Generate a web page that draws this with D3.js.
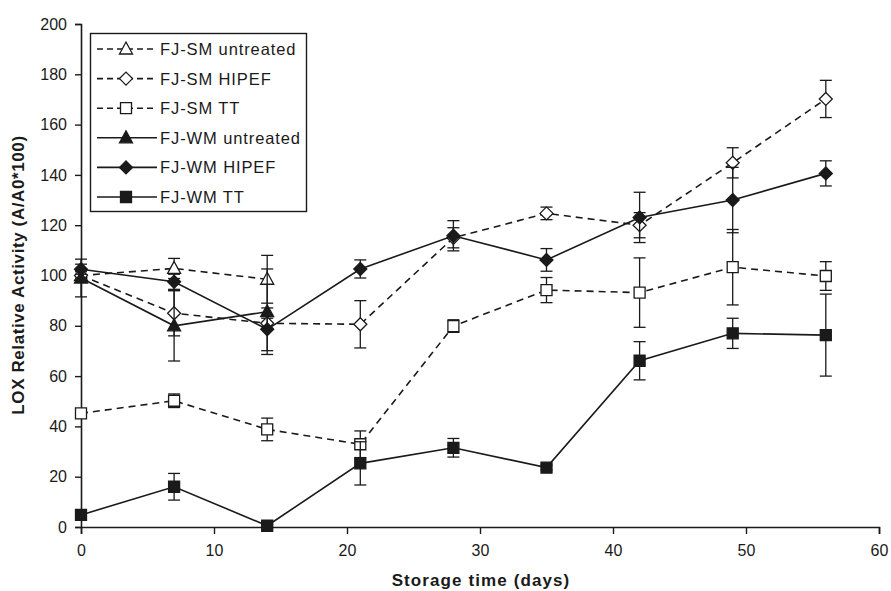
<!DOCTYPE html>
<html>
<head>
<meta charset="utf-8">
<script src="https://cdn.jsdelivr.net/npm/d3@7"></script>
<style>
  body { margin: 0; background: #fff; }
  svg { display: block; font-family: "Liberation Sans", Arial, sans-serif; }
</style>
</head>
<body>
<div id="displayContent"></div>
<script>
// storage days
const days = [0, 7, 14, 21, 28, 35, 42, 49, 56];
const xTicks = [0, 10, 20, 30, 40, 50, 60];
const yTicks = [0, 20, 40, 60, 80, 100, 120, 140, 160, 180, 200];

// FJ-SM (dashed, open markers)
const smUntreated = [100, 102.8, 98.5];
const smUntreatedErr = [1.5, 4, 9.5];
const smHipef = [100, 85, 81, 80.6, 115, 124.7, 120, 144.8, 170.2];
const smHipefErr = [2, 9, 2, 9.4, 4, 2.5, 5, 6, 7.4];
const smTT = [45.2, 50.2, 38.8, 32.9, 79.9, 94.2, 93.2, 103.3, 99.8];
const smTTErr = [1.5, 2.7, 4.5, 5.3, 2.5, 5, 13.8, 15, 5.7];

// FJ-WM (solid, filled markers)
const wmUntreated = [99, 80, 85.6];
const wmUntreatedErr = [7.5, 14, 17];
const wmHipef = [102.5, 97.5, 78.6, 102.6, 115.8, 106.2, 123.1, 130, 140.6];
const wmHipefErr = [2, 3, 8.5, 3.6, 6, 4.5, 10, 13, 5];
const wmTT = [4.8, 16, 0.5, 25.3, 31.5, 23.6, 66.1, 77, 76.3];
const wmTTErr = [2, 5.3, 0.5, 8.6, 3.7, 1, 7.6, 6, 16.3];

const seriesNames = ["FJ-SM untreated", "FJ-SM HIPEF", "FJ-SM TT", "FJ-WM untreated", "FJ-WM HIPEF", "FJ-WM TT"];

const series = [
    { name: seriesNames[0], vals: smUntreated, err: smUntreatedErr, shape: "tri", open: true },
    { name: seriesNames[1], vals: smHipef, err: smHipefErr, shape: "dia", open: true },
    { name: seriesNames[2], vals: smTT, err: smTTErr, shape: "sq", open: true },
    { name: seriesNames[3], vals: wmUntreated, err: wmUntreatedErr, shape: "tri", open: false },
    { name: seriesNames[4], vals: wmHipef, err: wmHipefErr, shape: "dia", open: false },
    { name: seriesNames[5], vals: wmTT, err: wmTTErr, shape: "sq", open: false }
];

const W = 891, H = 591;
const ink = "#1a1a1a";

const svg = d3.select("#displayContent")
    .append("svg")
    .attr("width", W)
    .attr("height", H);

const x = d3.scaleLinear().domain([0, 60]).range([81, 879]);
const y = d3.scaleLinear().domain([0, 200]).range([527, 24]);

// axes
const xAxis = svg.append("g")
    .attr("transform", "translate(0," + y(0) + ")")
    .call(d3.axisBottom(x).tickValues(xTicks).tickSizeOuter(0).tickSize(7).tickPadding(11));
const yAxis = svg.append("g")
    .attr("transform", "translate(" + x(0) + ",0)")
    .call(d3.axisLeft(y).tickValues(yTicks).tickSizeOuter(0).tickSize(6).tickPadding(8));

[xAxis, yAxis].forEach(function(a) {
    a.select(".domain").attr("stroke", ink).attr("stroke-width", 1.6);
    a.selectAll(".tick line").attr("stroke", ink).attr("stroke-width", 1.4);
    a.selectAll(".tick text")
        .attr("fill", ink)
        .style("font-size", "16px")
        .style("font-family", "Liberation Sans, Arial, sans-serif");
});

svg.append("text")
    .attr("x", 481)
    .attr("y", 586)
    .attr("text-anchor", "middle")
    .attr("font-weight", "bold")
    .attr("font-size", 17)
    .attr("letter-spacing", 1.1)
    .attr("fill", ink)
    .text("Storage time (days)");

svg.append("text")
    .attr("transform", "translate(23.5,275) rotate(-90)")
    .attr("text-anchor", "middle")
    .attr("font-weight", "bold")
    .attr("font-size", 17)
    .attr("letter-spacing", 0.6)
    .attr("fill", ink)
    .text("LOX Relative Activity (A/A0*100)");

// marker path, centred at 0,0
function markerPath(shape) {
    switch (shape) {
        case "tri":
            return "M0,-7L6.5,5L-6.5,5Z";
        case "dia":
            return "M0,-6.5L6.5,0L0,6.5L-6.5,0Z";
        default:
            return "M-5.5,-5.5H5.5V5.5H-5.5Z";
    }
}

const line = d3.line()
    .x(function(d) { return x(d.day); })
    .y(function(d) { return y(d.v); });

series.forEach(function(s) {
    const pts = s.vals.map(function(v, i) { return { day: days[i], v: v, e: s.err[i] }; });
    const g = svg.append("g").attr("class", "series");

    // error bars
    const eb = g.selectAll(".err").data(pts).enter().append("g").attr("class", "err");
    eb.append("line")
        .attr("x1", function(d) { return x(d.day); })
        .attr("x2", function(d) { return x(d.day); })
        .attr("y1", function(d) { return y(d.v - d.e); })
        .attr("y2", function(d) { return y(d.v + d.e); });
    eb.append("line")
        .attr("x1", function(d) { return x(d.day) - 6; })
        .attr("x2", function(d) { return x(d.day) + 6; })
        .attr("y1", function(d) { return y(d.v + d.e); })
        .attr("y2", function(d) { return y(d.v + d.e); });
    eb.append("line")
        .attr("x1", function(d) { return x(d.day) - 6; })
        .attr("x2", function(d) { return x(d.day) + 6; })
        .attr("y1", function(d) { return y(d.v - d.e); })
        .attr("y2", function(d) { return y(d.v - d.e); });
    eb.selectAll("line").attr("stroke", ink).attr("stroke-width", 1.3);

    g.append("path")
        .datum(pts)
        .attr("d", line)
        .attr("fill", "none")
        .attr("stroke", ink)
        .attr("stroke-width", 1.6)
        .attr("stroke-dasharray", s.open ? "7,5" : null);

    g.selectAll(".pt").data(pts).enter().append("path")
        .attr("class", "pt")
        .attr("transform", function(d) { return "translate(" + x(d.day) + "," + y(d.v) + ")"; })
        .attr("d", markerPath(s.shape))
        .attr("fill", s.open ? "#fff" : ink)
        .attr("stroke", ink)
        .attr("stroke-width", 1.3);
});

// legend
const legend = svg.append("g").attr("class", "legend");
legend.append("rect")
    .attr("x", 90.5).attr("y", 33.5)
    .attr("width", 216).attr("height", 178)
    .attr("fill", "#fff")
    .attr("stroke", ink)
    .attr("stroke-width", 1.4);

const rows = legend.selectAll(".row").data(series).enter().append("g")
    .attr("class", "row")
    .attr("transform", function(d, i) { return "translate(0," + (49 + i * 29.6) + ")"; });
rows.append("line")
    .attr("x1", 97).attr("x2", 157)
    .attr("stroke", ink)
    .attr("stroke-width", 1.6)
    .attr("stroke-dasharray", function(d) { return d.open ? "6,4" : null; });
rows.append("path")
    .attr("transform", "translate(126,0)")
    .attr("d", function(d) { return markerPath(d.shape); })
    .attr("fill", function(d) { return d.open ? "#fff" : ink; })
    .attr("stroke", ink)
    .attr("stroke-width", 1.3);
rows.append("text")
    .attr("x", 160)
    .attr("y", 6)
    .attr("font-size", 16.5)
    .attr("letter-spacing", 0.9)
    .attr("fill", ink)
    .text(function(d) { return d.name; });
</script>
</body>
</html>
